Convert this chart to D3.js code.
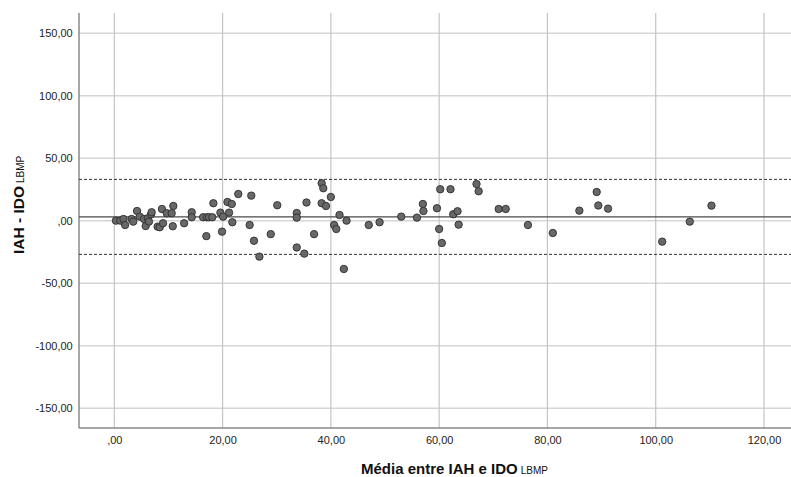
<!DOCTYPE html>
<html>
<head>
<meta charset="utf-8">
<script src="https://cdn.jsdelivr.net/npm/d3@7"></script>
<style>
  body { margin: 0; background: #fff; }
  svg { font-family: "Liberation Sans", Arial, sans-serif; }
  .tick text { fill: #222; font-size: 11px; }
</style>
</head>
<body>
<div id="chart"></div>
<script>
// Bland-Altman: mean of IAH and IDO (x) vs difference (y)
const meanVals = [0.3, 1.1, 1.7, 2.0, 3.2, 3.5, 4.2, 4.7, 5.5, 5.8, 6.2, 6.8, 6.9, 6.4, 8.0, 8.4, 8.8, 9.0, 9.7, 10.6,
  10.9, 10.8, 12.9, 14.3, 14.3, 16.4, 17.1, 17.5, 18.1, 17.0, 18.3, 19.6, 20.1, 19.9, 20.9, 21.7, 21.2, 21.8, 22.9, 25.3,
  25.0, 25.8, 26.8, 28.9, 30.1, 33.7, 33.7, 33.7, 35.5, 35.1, 36.9, 38.3, 38.6, 38.3, 39.1, 40.0, 40.6, 41.0, 41.6, 42.4,
  42.9, 47.0, 49.0, 53.0, 55.9, 57.0, 57.1, 59.6, 60.0, 60.5, 60.2, 62.1, 62.6, 63.4, 63.6, 66.9, 67.3, 71.0, 72.3, 76.4,
  81.0, 85.9, 89.1, 89.4, 91.2, 101.2, 106.3, 110.3];
const diffVals = [0.1, 0.1, 1.4, -3.4, 1.4, -0.7, 7.8, 3.3, 1.4, -4.2, 2.0, 5.2, 6.8, -0.7, -4.7, -5.2, 9.4, -2.0, 6.0, 6.0,
  11.8, -4.4, -2.0, 6.8, 2.8, 2.8, 2.8, 2.8, 2.8, -12.3, 14.0, 6.5, 3.3, -8.7, 15.0, 13.4, 6.5, -1.2, 21.4, 20.1,
  -3.4, -16.0, -28.7, -10.7, 12.4, 6.2, 2.5, -21.4, 14.6, -26.3, -10.7, 30.0, 26.0, 14.0, 11.8, 19.0, -3.4, -6.6, 4.6, -38.6,
  0.1, -3.4, -1.2, 3.3, 2.5, 13.4, 7.8, 10.0, -6.6, -17.8, 25.2, 25.2, 5.2, 7.6, -3.1, 29.4, 23.6, 9.4, 9.4, -3.4,
  -9.8, 8.1, 23.0, 12.2, 9.7, -16.7, -0.7, 12.1];
const meanDiff = 3.1;
const upperLoA = 33.1;
const lowerLoA = -26.9;
const xTicks = [0, 20, 40, 60, 80, 100, 120];
const yTicks = [-150, -100, -50, 0, 50, 100, 150];

const W = 791, H = 477;
const plot = {left: 79, right: 791, top: 13, bottom: 428};

const svg = d3.select("#chart").append("svg")
    .attr("width", W)
    .attr("height", H);

const x = d3.scaleLinear().domain([-6.52, 124.99]).range([plot.left, plot.right]);
const y = d3.scaleLinear().domain([-165.8, 166.2]).range([plot.bottom, plot.top]);

// SPSS style: ",00", "50,00", "-50,00"
const fmt = v => v === 0 ? ",00" : (v < 0 ? "-" : "") + Math.abs(v).toFixed(2).replace(".", ",");

// grid
svg.append("g").selectAll("line")
    .data(yTicks)
    .enter().append("line")
    .attr("x1", plot.left).attr("x2", plot.right)
    .attr("y1", d => y(d)).attr("y2", d => y(d))
    .attr("stroke", "#d6d6d6")
    .attr("stroke-width", 1.6);

svg.append("g").selectAll("line")
    .data(xTicks)
    .enter().append("line")
    .attr("x1", d => x(d)).attr("x2", d => x(d))
    .attr("y1", plot.top).attr("y2", plot.bottom)
    .attr("stroke", "#c4c4c4")
    .attr("stroke-width", 1.2);

// axes
const xAxis = svg.append("g")
    .attr("transform", "translate(0," + plot.bottom + ")")
    .call(d3.axisBottom(x).tickValues(xTicks).tickFormat(fmt).tickSize(0).tickPadding(8.5));
xAxis.select(".domain").remove();

const yAxis = svg.append("g")
    .attr("transform", "translate(" + plot.left + ",0)")
    .call(d3.axisLeft(y).tickValues(yTicks).tickFormat(fmt).tickSize(0).tickPadding(6.3));
yAxis.select(".domain").remove();

svg.append("line")
    .attr("x1", plot.left).attr("x2", plot.left)
    .attr("y1", plot.top).attr("y2", plot.bottom)
    .attr("stroke", "#8a8a8a").attr("stroke-width", 1.5);
svg.append("line")
    .attr("x1", plot.left).attr("x2", plot.right)
    .attr("y1", plot.bottom).attr("y2", plot.bottom)
    .attr("stroke", "#8a8a8a").attr("stroke-width", 1.5);

// mean and limits of agreement
svg.append("line")
    .attr("x1", plot.left).attr("x2", plot.right)
    .attr("y1", y(meanDiff)).attr("y2", y(meanDiff))
    .attr("stroke", "#4a4a4a").attr("stroke-width", 1.3);

svg.append("g").selectAll("line")
    .data([upperLoA, lowerLoA])
    .enter().append("line")
    .attr("x1", plot.left).attr("x2", plot.right)
    .attr("y1", d => y(d)).attr("y2", d => y(d))
    .attr("stroke", "#333")
    .attr("stroke-width", 1)
    .attr("stroke-dasharray", "3,2");

// points
svg.append("g").selectAll("circle")
    .data(meanVals.map((m, i) => [m, diffVals[i]]))
    .enter().append("circle")
    .attr("cx", d => x(d[0]))
    .attr("cy", d => y(d[1]))
    .attr("r", 3.7)
    .attr("fill", "#686868")
    .attr("stroke", "#2e2e2e")
    .attr("stroke-width", 0.9);

// titles
const xt = svg.append("text")
    .attr("x", 361).attr("y", 474)
    .attr("fill", "#111");
xt.append("tspan").attr("font-size", 15).attr("font-weight", "bold").text("Média entre IAH e IDO");
xt.append("tspan").attr("font-size", 10).attr("dx", 3).text("LBMP");

const yt = svg.append("text")
    .attr("transform", "translate(24,254) rotate(-90)")
    .attr("fill", "#111");
yt.append("tspan").attr("font-size", 15.5).attr("font-weight", "bold").text("IAH - IDO");
yt.append("tspan").attr("font-size", 10).attr("dx", 3).text("LBMP");
</script>
</body>
</html>
